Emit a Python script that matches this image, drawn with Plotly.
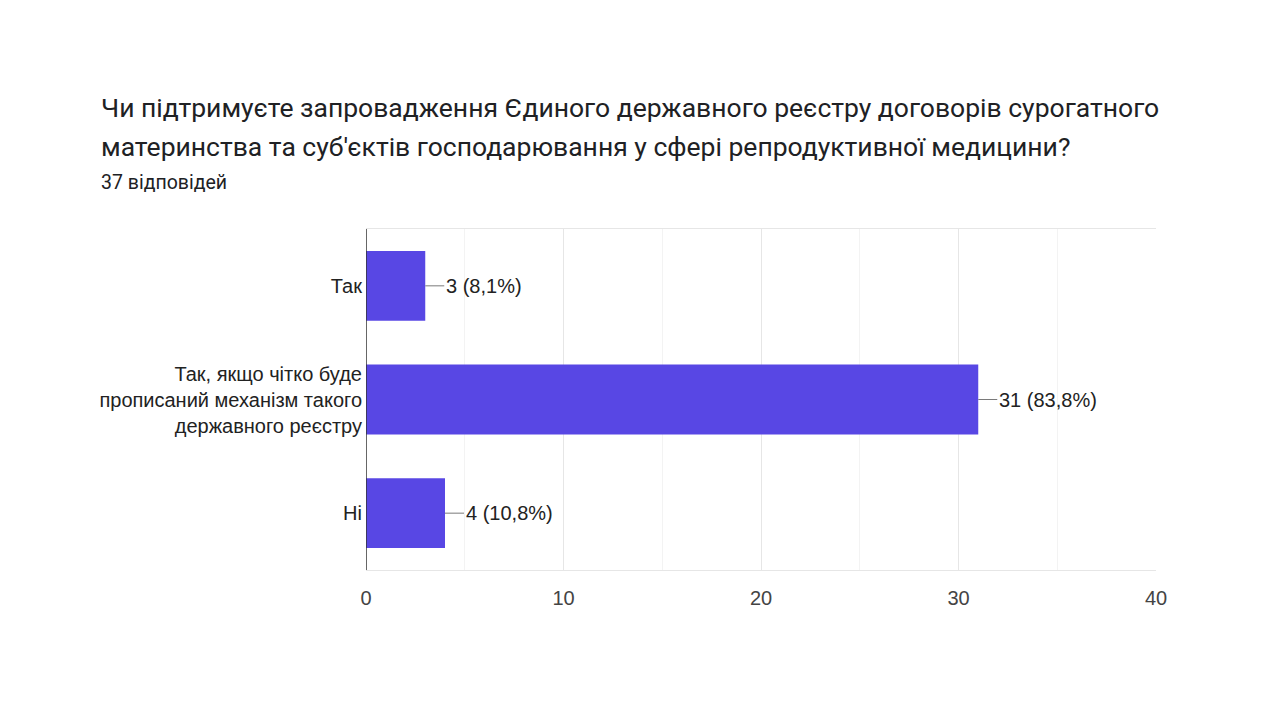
import plotly.graph_objects as go

categories = ["Так", "Так, якщо чітко буде<br>прописаний механізм такого<br>державного реєстру", "Ні"]
counts = [3, 31, 4]
labels = ["3 (8,1%)", "31 (83,8%)", "4 (10,8%)"]
x_ticks = [0, 10, 20, 30, 40]

title_lines = [
    "Чи підтримуєте запровадження Єдиного державного реєстру договорів сурогатного",
    "материнства та суб'єктів господарювання у сфері репродуктивної медицини?",
]
subtitle_text = "37 відповідей"

bar_color = "#5847E4"
FONT = "Liberation Sans, Arial"

# page offset (body margin) and target plot box in screen pixels
OFF = 8
PL, PR, PT, PB = 366, 1156, 229, 570
W, H = 1280, 720

def px_x(x):
    return (x - PL) / (PR - PL)

def px_y(y):
    return (PB - y) / (PB - PT)

fig = go.Figure()
fig.add_trace(go.Bar(
    y=categories, x=counts, orientation="h",
    marker=dict(color=bar_color, line=dict(width=0)),
    hoverinfo="skip",
))

for c, v, t in zip(categories, counts, labels):
    fig.add_annotation(
        x=v, y=c, xref="x", yref="y", text=t,
        showarrow=True, arrowhead=0, arrowwidth=1, arrowcolor="#7a7a7a",
        ax=19, ay=0, xanchor="left", standoff=0, startstandoff=0,
        font=dict(family=FONT, size=20, color="#222222"),
    )

fig.update_layout(
    width=W, height=H,
    margin=dict(l=PL - OFF, r=W + OFF - PR, t=PT - OFF, b=H + OFF - PB),
    paper_bgcolor="white", plot_bgcolor="white",
    bargap=0.386,
    showlegend=False,
    font=dict(family=FONT, size=20, color="#222222"),
    xaxis=dict(
        range=[0, 40], tickvals=x_ticks, ticktext=[str(t) for t in x_ticks],
        showgrid=True, gridcolor="#e6e6e6", gridwidth=1,
        minor=dict(dtick=5, showgrid=True, gridcolor="#f3f3f3", gridwidth=1),
        zeroline=False, showline=True, linecolor="#e6e6e6", mirror=True,
        tickfont=dict(family=FONT, size=20, color="#444444"),
        ticks="", ticklabelstandoff=10,
    ),
    yaxis=dict(
        autorange="reversed", showgrid=False, zeroline=False,
        showline=False, ticks="", ticklabelstandoff=3,
        tickfont=dict(family=FONT, size=20, color="#222222"),
    ),
)

fig.add_shape(type="line", xref="x", yref="paper", x0=0, x1=0, y0=0, y1=1,
              line=dict(color="#333333", width=1.5))

for line, yc in zip(title_lines, [107, 146]):
    fig.add_annotation(
        x=px_x(99), y=px_y(yc), xref="paper", yref="paper",
        xanchor="left", yanchor="middle", text=line, showarrow=False,
        font=dict(family="Roboto", size=26.5, color="#202124"),
    )
fig.add_annotation(
    x=px_x(99), y=px_y(183), xref="paper", yref="paper",
    xanchor="left", yanchor="middle", text=subtitle_text, showarrow=False,
    font=dict(family="Roboto", size=19.5, color="#202124"),
)

fig.write_html("out.html")
